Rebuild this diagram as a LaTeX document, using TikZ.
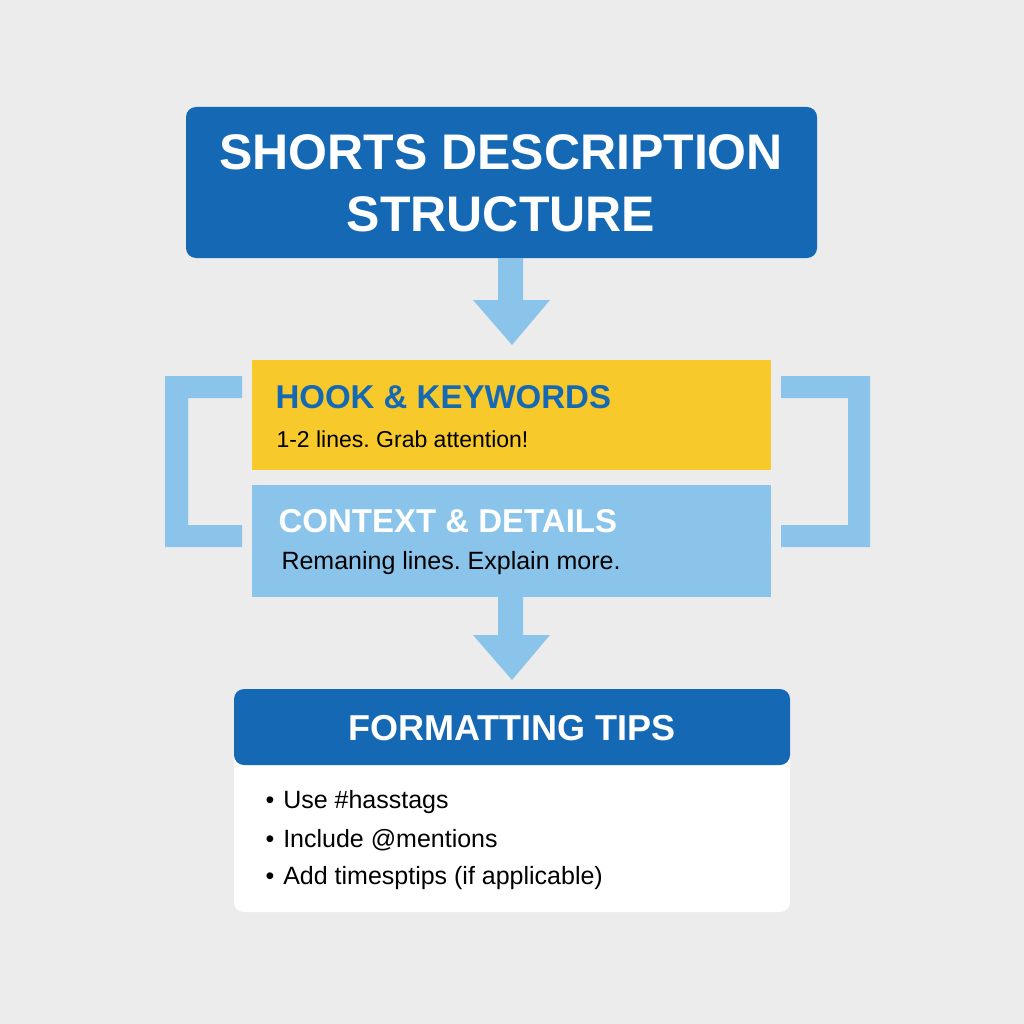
\documentclass[tikz,border=0pt]{standalone}
\usepackage{fontspec}
\setmainfont{Liberation Sans}
\frenchspacing
\definecolor{bg}{RGB}{236,236,236}
\definecolor{dblue}{RGB}{21,105,180}
\definecolor{lblue}{RGB}{139,196,234}
\definecolor{yel}{RGB}{247,201,43}
\tikzset{arr/.style={fill=lblue,draw=none},
 bigt/.style={font=\fontsize{50}{62}\selectfont\bfseries,text=white,align=center},
 head/.style={font=\fontsize{33}{40}\selectfont\bfseries,anchor=west},
 body/.style={font=\fontsize{23}{28}\selectfont,anchor=west,text=black}}
\begin{document}
\begin{tikzpicture}[x=1pt,y=-1pt]
\fill[bg] (0,0) rectangle (1024,1024);
\useasboundingbox (0,0) rectangle (1024,1024);
% title
\fill[dblue,rounded corners=10pt] (186,107) rectangle (817,258);
\node[bigt] (title) at (501,183) {SHORTS DESCRIPTION\\STRUCTURE};
% arrow 1
\fill[arr] (498,258) -- (523,258) -- (523,300) -- (550,300) -- (512,345) -- (473,300) -- (498,300) -- cycle;
% brackets
\fill[lblue] (242,376) -- (165,376) -- (165,547) -- (242,547) -- (242,525) -- (188,525) -- (188,398) -- (242,398) -- cycle;
\fill[lblue] (781,376) -- (870,376) -- (870,547) -- (781,547) -- (781,525) -- (848,525) -- (848,398) -- (781,398) -- cycle;
% yellow
\fill[yel] (252,360) rectangle (771,470);
\node[head,text=dblue] (hook) at (272,397) {HOOK \& KEYWORDS};
\node[body] (hookb) at (273,439) {1-2 lines. Grab attention!};
% light blue
\fill[lblue] (252,485) rectangle (771,597);
\node[head,text=white] (ctx) at (275,521) {CONTEXT \& DETAILS};
\node[body,font=\fontsize{25}{30}\selectfont] (ctxb) at (278,563) {Remaning lines. Explain more.};
% arrow 2
\fill[arr] (498,597) -- (523,597) -- (523,635) -- (550,635) -- (512,680) -- (473,635) -- (498,635) -- cycle;
% tips box
\fill[white,rounded corners=10pt] (234,689) rectangle (790,912);
\fill[dblue,rounded corners=10pt] (234,689) -- (234,765) -- (790,765) -- (790,689) -- cycle;
\node[font=\fontsize{36}{42}\selectfont\bfseries,text=white] (tips) at (512,728) {FORMATTING TIPS};
\foreach \t/\y/\n in {Use \#hasstags/802/a, Include @mentions/840/b, Add timesptips (if applicable)/878/c}{
  \node[body,font=\fontsize{25}{30}\selectfont] (tip\n) at (262,\y) {\textbullet\hspace{9pt}\t};
}
\end{tikzpicture}
\end{document}
